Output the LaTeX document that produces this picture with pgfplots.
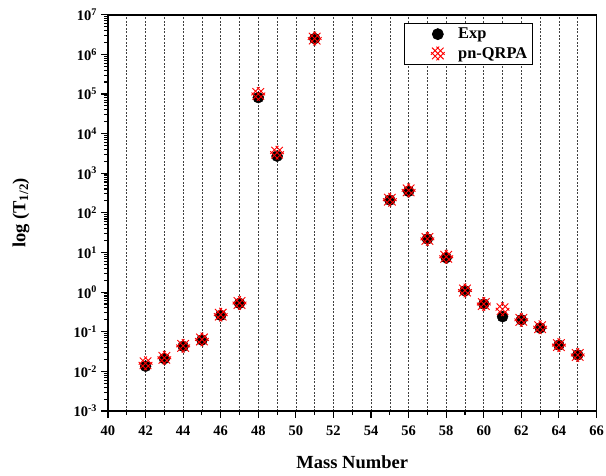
\documentclass[border=0pt]{standalone}
\usepackage{fontspec}
\setmainfont{Liberation Serif}
\usepackage{pgfplots}
\pgfplotsset{compat=1.18}

\pgfdeclareplotmark{xhatch}{%
  % centre lines (long X arms)
  \pgfpathmoveto{\pgfqpoint{-0.85\pgfplotmarksize}{-0.85\pgfplotmarksize}}%
  \pgfpathlineto{\pgfqpoint{0.85\pgfplotmarksize}{0.85\pgfplotmarksize}}%
  \pgfpathmoveto{\pgfqpoint{0.85\pgfplotmarksize}{-0.85\pgfplotmarksize}}%
  \pgfpathlineto{\pgfqpoint{-0.85\pgfplotmarksize}{0.85\pgfplotmarksize}}%
  % offset lines, direction (1,1)
  \pgfpathmoveto{\pgfqpoint{-1.0\pgfplotmarksize}{-0.2\pgfplotmarksize}}%
  \pgfpathlineto{\pgfqpoint{0.2\pgfplotmarksize}{1.0\pgfplotmarksize}}%
  \pgfpathmoveto{\pgfqpoint{-0.2\pgfplotmarksize}{-1.0\pgfplotmarksize}}%
  \pgfpathlineto{\pgfqpoint{1.0\pgfplotmarksize}{0.2\pgfplotmarksize}}%
  % offset lines, direction (1,-1)
  \pgfpathmoveto{\pgfqpoint{1.0\pgfplotmarksize}{-0.2\pgfplotmarksize}}%
  \pgfpathlineto{\pgfqpoint{-0.2\pgfplotmarksize}{1.0\pgfplotmarksize}}%
  \pgfpathmoveto{\pgfqpoint{0.2\pgfplotmarksize}{-1.0\pgfplotmarksize}}%
  \pgfpathlineto{\pgfqpoint{-1.0\pgfplotmarksize}{0.2\pgfplotmarksize}}%
  \pgfusepathqstroke
}

\pgfplotstableread{
A    T
42   0.0135
43   0.021
44   0.043
45   0.062
46   0.26
47   0.52
48   8.1e4
49   2.7e3
51   2.5e6
55   210
56   350
57   22
58   7.4
59   1.08
60   0.50
61   0.24
62   0.20
63   0.125
64   0.046
65   0.026
}\expdata

\pgfplotstableread{
A    T
42   0.016
43   0.022
44   0.044
45   0.064
46   0.27
47   0.53
48   1.0e5
49   3.3e3
51   2.5e6
55   215
56   370
57   22
58   7.8
59   1.1
60   0.50
61   0.37
62   0.20
63   0.13
64   0.046
65   0.026
}\qrpadata

\begin{document}
\begin{tikzpicture}
\begin{axis}[
  name=ax,
  scale only axis,
  width=488.5pt, height=396.3pt,
  xmin=40, xmax=66,
  ymode=log, ymin=1e-3, ymax=1e7,
  xtick={40,42,...,66},
  minor xtick={41,43,...,65},
  ytick={1e-3,1e-2,1e-1,1,1e1,1e2,1e3,1e4,1e5,1e6,1e7},
  yticklabels={10\textsuperscript{-3},10\textsuperscript{-2},10\textsuperscript{-1},10\textsuperscript{0},10\textsuperscript{1},10\textsuperscript{2},10\textsuperscript{3},10\textsuperscript{4},10\textsuperscript{5},10\textsuperscript{6},10\textsuperscript{7}},
  /pgf/number format/assume math mode=true,
  tick align=outside,
  xtick pos=bottom, ytick pos=left,
  major tick length=6.5pt, minor tick length=3.5pt,
  xmajorgrids, xminorgrids,
  major grid style={dash pattern=on 2pt off 1.5pt, black!75, line width=0.6pt},
  minor grid style={dash pattern=on 2pt off 1.5pt, black!75, line width=0.6pt},
  axis line style={line width=1.6pt},
  every tick/.style={black, line width=1.1pt},
  tick label style={font=\bfseries\fontsize{14.5}{16}\selectfont},
  xticklabel style={yshift=-4.5pt},
  yticklabel style={xshift=-1pt},
  xlabel={Mass Number},
  ylabel={log (T\textsubscript{1/2})},
  label style={font=\bfseries\fontsize{18.5}{21}\selectfont},
  xlabel style={at={(axis description cs:0.5,-0.129)}, anchor=center},
  ylabel style={at={(axis description cs:-0.178,0.5)}, anchor=center, rotate=0},
  legend style={at={(axis description cs:0.606,0.98)}, anchor=north west,
    draw=black, line width=0.8pt, fill=white,
    font=\bfseries\fontsize{16.4}{19}\selectfont,
    inner xsep=3pt, inner ysep=3pt, row sep=3pt},
  legend cell align=left,
  legend image code/.code={\path (0pt,0pt) (48pt,0pt); \draw[#1] plot coordinates {(30pt,0pt)};},
]
\addplot[only marks, mark=*, mark size=5.5pt, mark options={fill=black, draw=black}] table[x=A,y=T] {\expdata};
\addlegendentry{Exp}
\addplot[only marks, mark=xhatch, mark size=6.8pt, mark options={draw=red, line width=0.9pt}] table[x=A,y=T] {\qrpadata};
\addlegendentry{pn-QRPA}
\end{axis}
\pgfresetboundingbox
\path[use as bounding box] ([shift={(-108pt,-64pt)}]ax.south west) rectangle ([shift={(9.5pt,14.7pt)}]ax.north east);
\end{tikzpicture}
\end{document}
